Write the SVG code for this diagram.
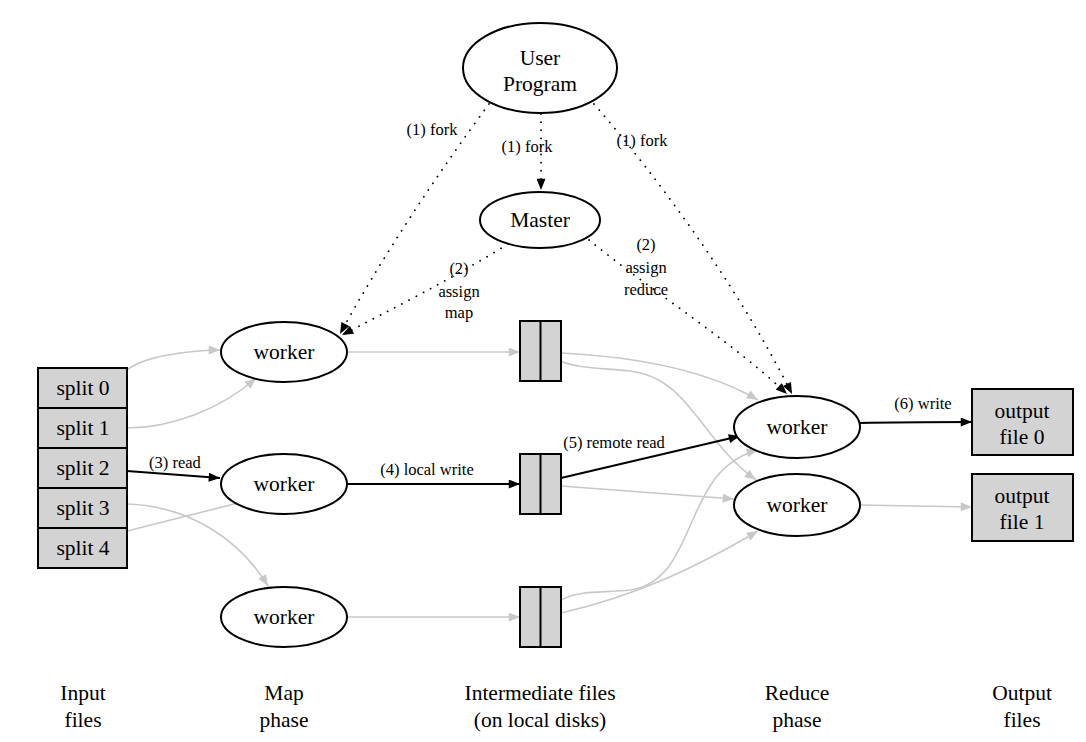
<svg xmlns="http://www.w3.org/2000/svg" width="1086" height="742" viewBox="0 0 1086 742">
<defs>
<marker id="ak" viewBox="0 0 10 8" refX="10" refY="4" markerWidth="12" markerHeight="9" markerUnits="userSpaceOnUse" orient="auto"><path d="M0,0L10,4L0,8z" fill="#000"/></marker>
<marker id="ag" viewBox="0 0 10 8" refX="10" refY="4" markerWidth="12" markerHeight="9" markerUnits="userSpaceOnUse" orient="auto"><path d="M0,0L10,4L0,8z" fill="#c8c8c8"/></marker>
</defs>
<g id="connectors" fill="none">
<g stroke="#000" stroke-width="1.8" stroke-dasharray="0.1 8" stroke-linecap="round" marker-end="url(#ak)">
<path d="M489,104 C440,170 380,260 340,334"/>
<path d="M541,114 L541,190"/>
<path d="M594,104 C660,180 740,290 792,394"/>
<path d="M508,244 C450,280 390,310 342,335"/>
<path d="M589,240 C650,290 730,340 787,394"/>
</g>
<g stroke="#c8c8c8" stroke-width="1.6" marker-end="url(#ag)">
<path d="M127,370 C140,360 160,356 180,353 C195,351 205,350 220,350"/>
<path d="M127,428 C170,428 220,410 256,378"/>
<path d="M127,504 C190,506 240,540 268,586"/>
<path d="M127,531 L250,500"/>
<path d="M347,352 L520,352"/>
<path d="M347,617 L520,617"/>
<path d="M561,353 C640,357 710,372 758,400"/>
<path d="M561,361 C575,368 600,368 630,371 C690,378 700,440 756,480"/>
<path d="M561,486 L734,499"/>
<path d="M561,600 C580,590 600,593 630,590 C700,580 680,470 758,450"/>
<path d="M561,613 C640,595 700,565 758,531"/>
<path d="M860,505 L972,507"/>
</g>
<g stroke="#000" stroke-width="2" marker-end="url(#ak)">
<path d="M127,471 L220,478"/>
<path d="M347,484 L520,484"/>
<path d="M561,478 L740,436"/>
<path d="M860,423 C900,422 940,422 972,422"/>
</g>
<g fill="#000" text-anchor="middle" font-family="Liberation Serif" font-size="16.5">
<text x="432" y="135">(1) fork</text>
<text x="527" y="152">(1) fork</text>
<text x="642" y="146">(1) fork</text>
<text x="459" y="274">(2)</text>
<text x="459" y="297">assign</text>
<text x="459" y="318">map</text>
<text x="646" y="250">(2)</text>
<text x="646" y="273">assign</text>
<text x="646" y="295">reduce</text>
<text x="175" y="468">(3) read</text>
<text x="427" y="475">(4) local write</text>
<text x="614" y="448">(5) remote read</text>
<text x="923" y="409">(6) write</text>
</g>
</g>
<g id="nodes" stroke-width="2" text-anchor="middle" font-family="Liberation Serif" font-size="21.5">
<g id="user_program"><ellipse fill="#fff" stroke="#000" cx="540" cy="68" rx="77" ry="45"/><text x="540" y="65">User</text><text x="540" y="91">Program</text></g>
<g id="master"><ellipse fill="#fff" stroke="#000" cx="540" cy="220" rx="60" ry="28"/><text x="540" y="227">Master</text></g>
<g id="input_files">
<rect fill="#d3d3d3" stroke="#000" x="38" y="368" width="89" height="40"/><text x="83" y="395">split 0</text>
<rect fill="#d3d3d3" stroke="#000" x="38" y="408" width="89" height="40"/><text x="83" y="435">split 1</text>
<rect fill="#d3d3d3" stroke="#000" x="38" y="448" width="89" height="40"/><text x="83" y="475">split 2</text>
<rect fill="#d3d3d3" stroke="#000" x="38" y="488" width="89" height="40"/><text x="83" y="515">split 3</text>
<rect fill="#d3d3d3" stroke="#000" x="38" y="528" width="89" height="40"/><text x="83" y="555">split 4</text>
</g>
<g id="map_worker_0"><ellipse fill="#fff" stroke="#000" cx="284" cy="352" rx="63" ry="30"/><text x="284" y="359">worker</text></g>
<g id="map_worker_1"><ellipse fill="#fff" stroke="#000" cx="284" cy="484" rx="63" ry="30"/><text x="284" y="491">worker</text></g>
<g id="map_worker_2"><ellipse fill="#fff" stroke="#000" cx="284" cy="617" rx="63" ry="30"/><text x="284" y="624">worker</text></g>
<g id="intermediate_0"><rect fill="#d3d3d3" stroke="#000" x="520" y="321" width="41" height="60"/><line x1="540.5" y1="321" x2="540.5" y2="381" stroke="#000"/></g>
<g id="intermediate_1"><rect fill="#d3d3d3" stroke="#000" x="520" y="454" width="41" height="60"/><line x1="540.5" y1="454" x2="540.5" y2="514" stroke="#000"/></g>
<g id="intermediate_2"><rect fill="#d3d3d3" stroke="#000" x="520" y="587" width="41" height="60"/><line x1="540.5" y1="587" x2="540.5" y2="647" stroke="#000"/></g>
<g id="reduce_worker_0"><ellipse fill="#fff" stroke="#000" cx="797" cy="427" rx="63" ry="31"/><text x="797" y="434">worker</text></g>
<g id="reduce_worker_1"><ellipse fill="#fff" stroke="#000" cx="797" cy="505" rx="63" ry="31"/><text x="797" y="512">worker</text></g>
<g id="output_0"><rect fill="#d3d3d3" stroke="#000" x="972" y="389" width="101" height="66"/><text x="1022" y="418">output</text><text x="1022" y="444">file 0</text></g>
<g id="output_1"><rect fill="#d3d3d3" stroke="#000" x="972" y="474" width="101" height="67"/><text x="1022" y="503">output</text><text x="1022" y="529">file 1</text></g>
<g id="phase_labels">
<text x="83" y="700">Input</text><text x="83" y="727">files</text>
<text x="284" y="700">Map</text><text x="284" y="727">phase</text>
<text x="540" y="700">Intermediate files</text><text x="540" y="727">(on local disks)</text>
<text x="797" y="700">Reduce</text><text x="797" y="727">phase</text>
<text x="1022" y="700">Output</text><text x="1022" y="727">files</text>
</g>
</g>
</svg>
